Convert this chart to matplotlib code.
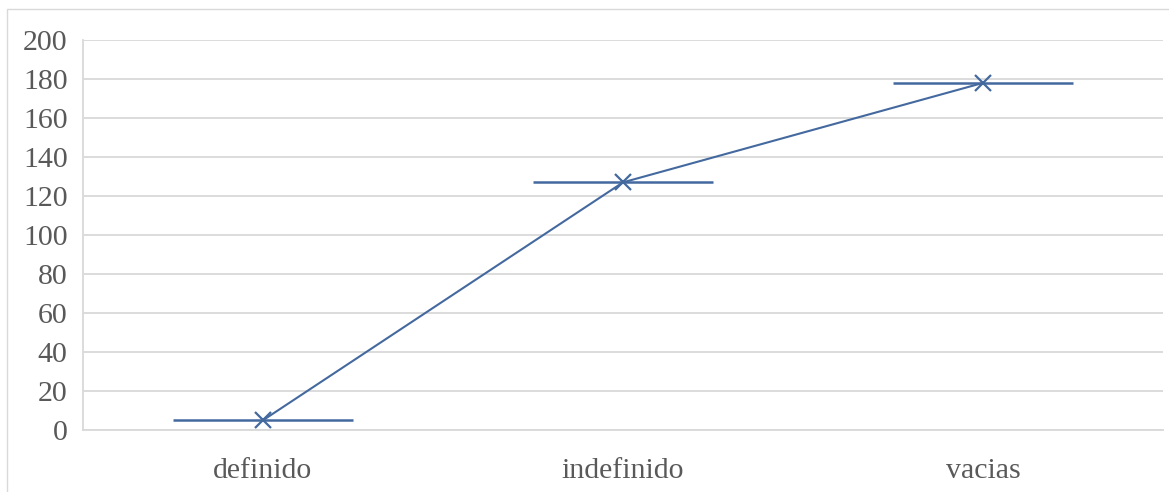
import matplotlib
matplotlib.use("Agg")
import matplotlib.pyplot as plt
from matplotlib.patches import Rectangle

categories = ["definido", "indefinido", "vacias"]
values = [5, 127, 178]
spread = [0.25, 0.25, 0.25]
yticks = [0, 20, 40, 60, 80, 100, 120, 140, 160, 180, 200]

plt.rcParams['font.family'] = ['Liberation Serif', 'DejaVu Serif']

fig = plt.figure(figsize=(11.69, 4.92), dpi=100)
fig.patches.append(Rectangle((7/1169, -0.05), 1.2, 1 - 9/492 + 0.05, transform=fig.transFigure,
                             fill=False, edgecolor='#D9D9D9', linewidth=1.0))
ax = fig.add_axes([83/1169, 1 - 430/492, (1163 - 83)/1169, (430 - 40)/492])

color = '#44699F'
x = list(range(len(categories)))
ax.errorbar(x, values, xerr=spread, color=color, linewidth=1.5, elinewidth=1.8,
            capsize=0, marker='x', markersize=11, markeredgewidth=1.6)

ax.set_xlim(-0.5, len(categories) - 0.5)
ax.set_ylim(0, 200)
ax.set_yticks(yticks)
ax.set_xticks(x)
ax.set_xticklabels(categories)
ax.tick_params(axis='both', length=0, labelsize=21.5, colors='#595959')
ax.tick_params(axis='y', pad=11)
ax.tick_params(axis='x', pad=20)
ax.yaxis.grid(True, color='#D9D9D9', linewidth=1.3)
ax.set_axisbelow(True)
for s in ['top', 'right']:
    ax.spines[s].set_visible(False)
for s in ['left', 'bottom']:
    ax.spines[s].set_color('#D9D9D9')
    ax.spines[s].set_linewidth(1.3)

fig.savefig("out.png", dpi=100)
